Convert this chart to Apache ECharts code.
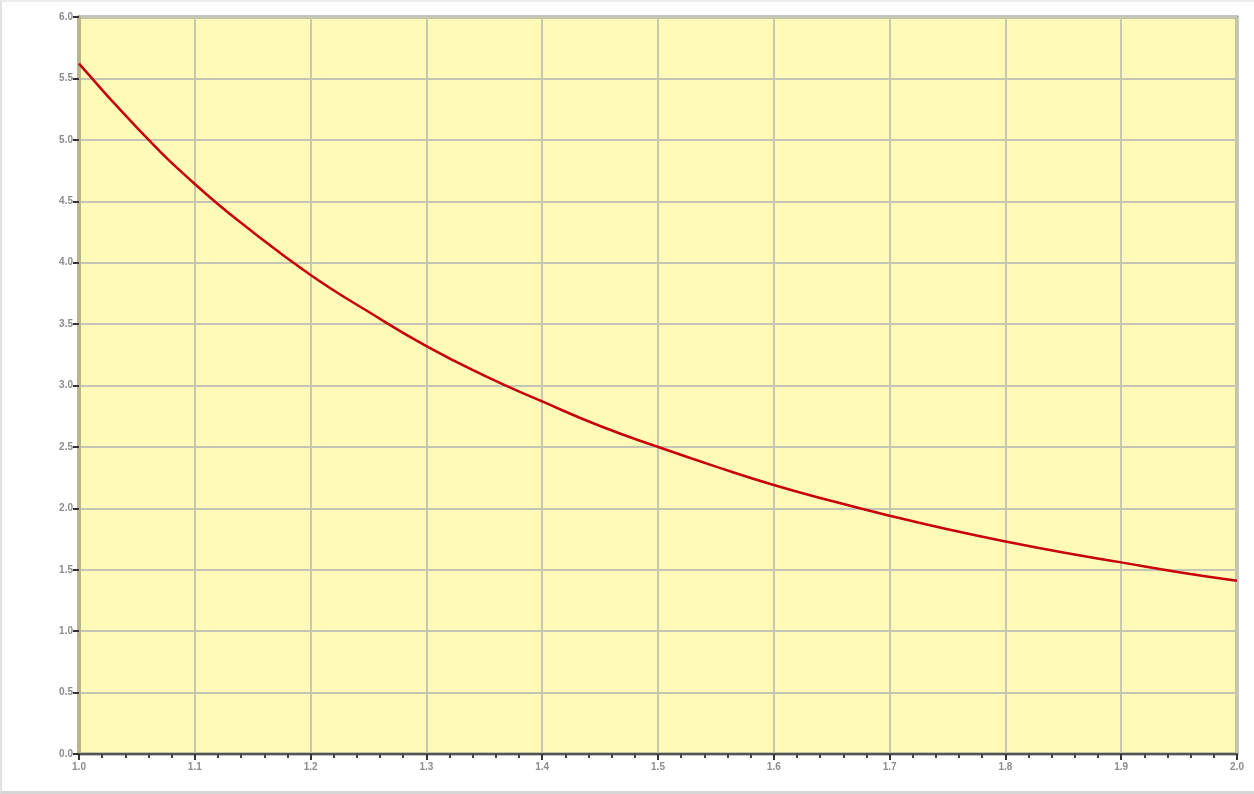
<!DOCTYPE html>
<html>
<head>
<meta charset="utf-8">
<script src="https://cdn.jsdelivr.net/npm/echarts@6/dist/echarts.min.js"></script>
<style>
  html, body { margin: 0; padding: 0; background: #fff; }
  #chart { width: 1254px; height: 794px; box-sizing: border-box;
           border-left: 2px solid #e2e2e2; border-bottom: 3px solid #d6d6d6; border-top: 2px solid #ececec; }
</style>
</head>
<body>
<div id="chart"></div>
<script>
  // x positions and values
  const xs = [1.0, 1.05, 1.1, 1.15, 1.2, 1.25, 1.3, 1.35, 1.4, 1.45, 1.5,
              1.55, 1.6, 1.65, 1.7, 1.75, 1.8, 1.85, 1.9, 1.95, 2.0];
  const ys = [5.62, 5.10, 4.64, 4.25, 3.90, 3.60, 3.32, 3.08, 2.87, 2.67, 2.50,
              2.34, 2.19, 2.06, 1.94, 1.83, 1.73, 1.64, 1.56, 1.48, 1.41];

  const chart = echarts.init(document.getElementById('chart'));
  chart.setOption({
    backgroundColor: '#ffffff',
    animation: false,
    grid: {
      left: 77, right: 17, top: 15, bottom: 37,
      show: true,
      backgroundColor: '#fffab8',
      borderColor: '#8a8a8a',
      borderWidth: 3
    },
    xAxis: {
      type: 'value',
      min: 1, max: 2, interval: 0.1,
      axisLine: { show: true, lineStyle: { color: '#555', width: 2 } },
      axisTick: { show: true, length: 6, lineStyle: { color: '#333', width: 2 } },
      minorTick: { show: true, splitNumber: 5, length: 4, lineStyle: { color: '#444', width: 2 } },
      axisLabel: { fontSize: 10, color: '#8c8c8c', fontWeight: 'bold', margin: 8,
                   formatter: v => v.toFixed(1) },
      splitLine: { show: true, lineStyle: { color: '#c8c8b0', width: 2 } }
    },
    yAxis: {
      type: 'value',
      min: 0, max: 6, interval: 0.5,
      axisLine: { show: true, lineStyle: { color: '#b9b68c', width: 4 } },
      axisTick: { show: true, length: 6, lineStyle: { color: '#333', width: 2 } },
      axisLabel: { fontSize: 10, color: '#8c8c8c', fontWeight: 'bold', margin: 6,
                   formatter: v => v.toFixed(1) },
      splitLine: { show: true, lineStyle: { color: '#c5c5b5', width: 2 } }
    },
    series: [{
      type: 'line',
      smooth: true,
      showSymbol: false,
      data: xs.map((x, i) => [x, ys[i]]),
      lineStyle: { color: '#c8000a', width: 2.5 }
    }]
  });
</script>
</body>
</html>
